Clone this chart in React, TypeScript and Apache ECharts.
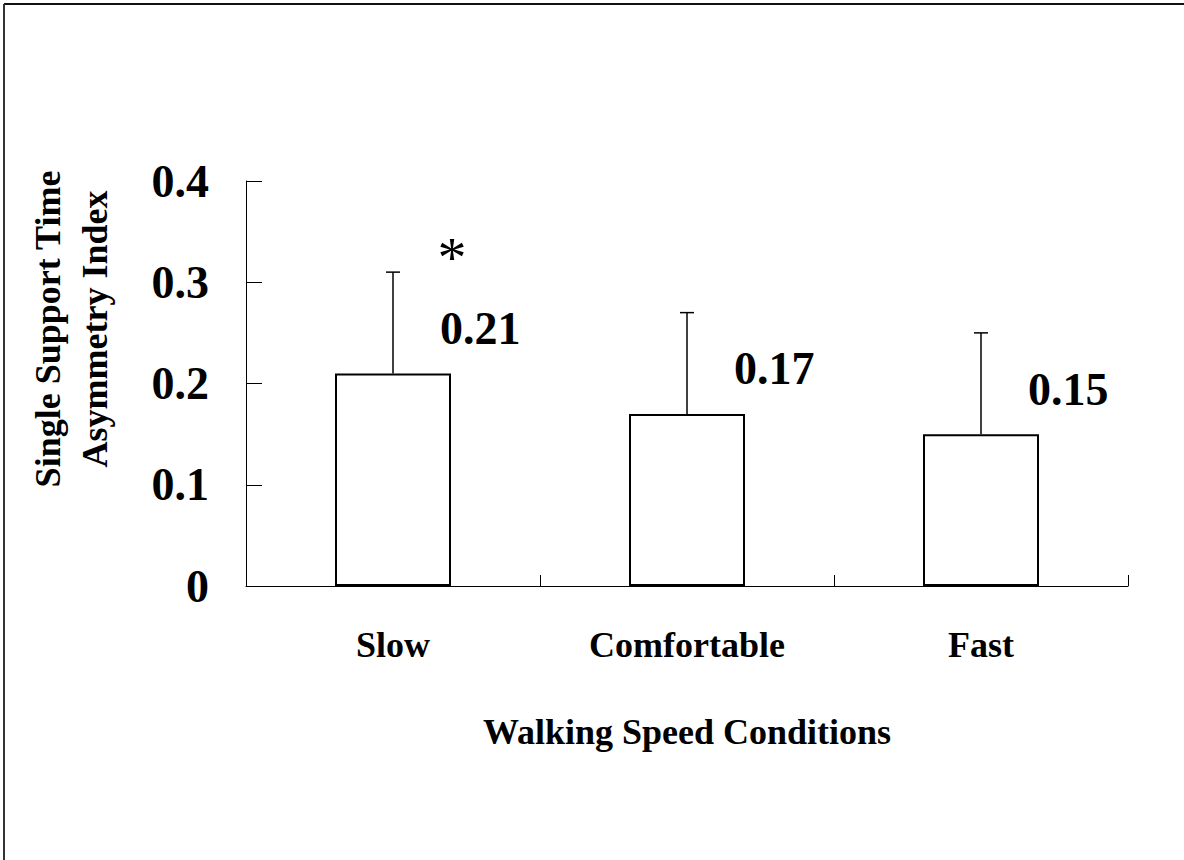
import React, { useEffect, useRef } from "react";
import * as echarts from "echarts";

const categories = ["Slow", "Comfortable", "Fast"];
const means = [0.21, 0.17, 0.15];
const sds = [0.1, 0.1, 0.1];
const valueLabels = ["0.21", "0.17", "0.15"];
const significance = ["*", "", ""];
const yTicks = [0, 0.1, 0.2, 0.3, 0.4];

const FONT = '"Liberation Serif", "Times New Roman", serif';

export default function App() {
  const ref = useRef<HTMLDivElement>(null);

  useEffect(() => {
    if (!ref.current) return;
    const chart = echarts.init(ref.current, null, { renderer: "svg" });
    const option: any = {
      animation: false,
      backgroundColor: "#ffffff",
      grid: { left: 246, right: 56, top: 181, bottom: 274, containLabel: false },
      xAxis: {
        type: "category",
        data: categories,
        axisLine: { lineStyle: { color: "#000", width: 1 } },
        axisTick: {
          show: true,
          interval: 0,
          alignWithLabel: false,
          inside: true,
          length: 11,
          lineStyle: { color: "#000", width: 1 },
        },
        axisLabel: {
          margin: 41,
          fontFamily: FONT,
          fontWeight: "bold",
          fontSize: 36,
          lineHeight: 36,
          color: "#000",
        },
        name: "Walking Speed Conditions",
        nameLocation: "middle",
        nameGap: 128,
        nameTextStyle: {
          fontFamily: FONT,
          fontWeight: "bold",
          fontSize: 36,
          lineHeight: 36,
          color: "#000",
        },
        z: 10,
      },
      yAxis: {
        type: "value",
        min: yTicks[0],
        max: yTicks[yTicks.length - 1],
        interval: 0.1,
        splitLine: { show: false },
        axisLine: { show: true, lineStyle: { color: "#000", width: 1 } },
        axisTick: { show: true, inside: true, length: 16, lineStyle: { color: "#000" } },
        axisLabel: {
          margin: 37,
          fontFamily: FONT,
          fontWeight: "bold",
          fontSize: 46,
          color: "#000",
          formatter: (v: number) => (v === 0 ? "0" : v.toFixed(1)),
        },
      },
      graphic: [
        {
          type: "line",
          shape: { x1: 4, y1: 4, x2: 1184, y2: 4 },
          style: { stroke: "#111", lineWidth: 2 },
          silent: true,
        },
        {
          type: "line",
          shape: { x1: 4, y1: 4, x2: 4, y2: 860 },
          style: { stroke: "#333", lineWidth: 2 },
          silent: true,
        },
        {
          type: "text",
          x: 71,
          y: 329,
          rotation: Math.PI / 2,
          style: {
            text: "Single Support Time\nAsymmetry Index",
            fontFamily: FONT,
            fontWeight: "bold",
            fontSize: 36,
            lineHeight: 47,
            fill: "#000",
            align: "center",
            verticalAlign: "middle",
          },
        },
      ],
      series: [
        {
          type: "bar",
          data: means,
          barWidth: 116,
          itemStyle: { color: "#fff", borderColor: "#000", borderWidth: 2 },
          label: {
            show: true,
            position: [105, -45],
            align: "left",
            verticalAlign: "middle",
            formatter: (p: any) => valueLabels[p.dataIndex],
            fontFamily: FONT,
            fontWeight: "bold",
            fontSize: 46,
            color: "#000",
          },
          z: 2,
        },
        {
          type: "custom",
          data: categories.map((_, i) => [i, means[i], sds[i]]),
          encode: { x: 0, y: 1 },
          z: 3,
          renderItem: (params: any, api: any) => {
            const i = params.dataIndex;
            const base = api.coord([api.value(0), api.value(1)]);
            const top = api.coord([api.value(0), api.value(1) + api.value(2)]);
            const style = { stroke: "#000", lineWidth: 1.5 };
            const children: any[] = [
              { type: "line", shape: { x1: base[0], y1: base[1], x2: base[0], y2: top[1] }, style },
              { type: "line", shape: { x1: top[0] - 7, y1: top[1], x2: top[0] + 7, y2: top[1] }, style },
            ];
            if (significance[i]) {
              children.push({
                type: "text",
                x: top[0] + 59,
                y: top[1] - 15,
                style: {
                  text: significance[i],
                  fontFamily: FONT,
                  fontSize: 58,
                  fill: "#000",
                  align: "center",
                  verticalAlign: "middle",
                },
              });
            }
            return { type: "group", children };
          },
        },
      ],
    };
    chart.setOption(option);
    return () => chart.dispose();
  }, []);

  return (
    <div
      ref={ref}
      style={{ position: "fixed", left: 0, top: 0, width: 1184, height: 860, background: "#fff" }}
    />
  );
}
